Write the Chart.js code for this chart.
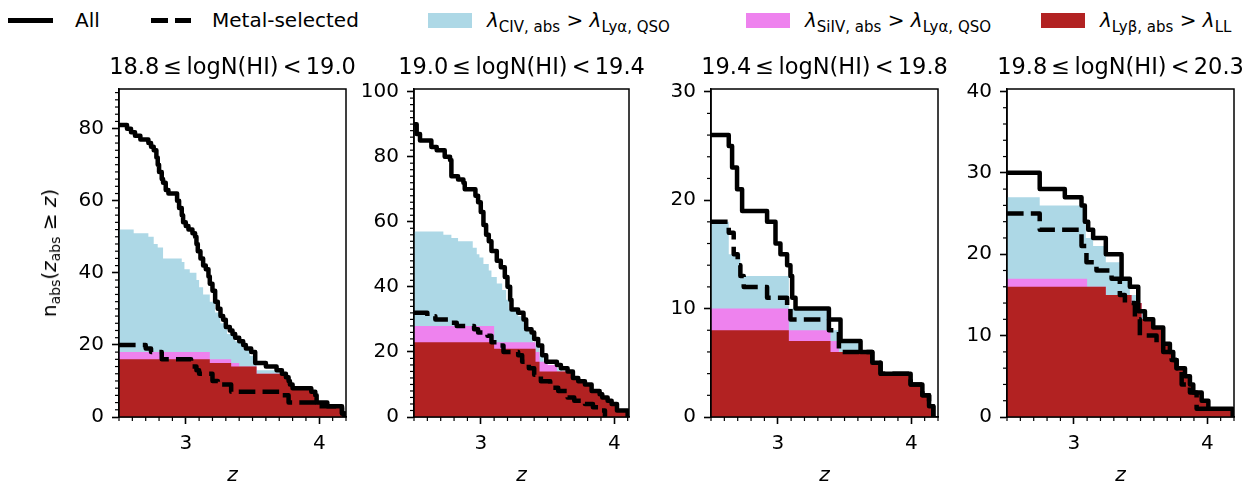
<!DOCTYPE html>
<html><head><meta charset="utf-8">
<script src="https://cdn.jsdelivr.net/npm/chart.js@4.4.1/dist/chart.umd.min.js"></script>
<style>
html,body{margin:0;padding:0;background:#fff;overflow:hidden;width:1247px;height:483px;}
body{position:relative;font-family:'DejaVu Sans',sans-serif;color:#000;}
canvas{position:absolute;}
.ttl{position:absolute;top:53px;font-size:22.5px;line-height:26px;white-space:nowrap;word-spacing:-3px;transform:translateX(-50%);}
.lg{position:absolute;top:8px;font-size:20px;line-height:24px;white-space:nowrap;}
.lg .s{font-size:15px;vertical-align:-5px;}
.patch{position:absolute;top:13px;width:44px;height:15px;}
.hline{position:absolute;top:18px;height:4.5px;background:#000;}
#ylab{position:absolute;left:51.5px;top:253px;transform:translate(-50%,-50%) rotate(-90deg);font-size:20px;line-height:24px;white-space:nowrap;}
#ylab .s{font-size:14px;vertical-align:-4px;}
</style>
</head><body>
<div id="root"></div>
<script>
// ---------------- data (z, n) step points: n holds from z until next z ----------------
const panelTitles = ['18.8 ≤ logN(HI) < 19.0','19.0 ≤ logN(HI) < 19.4','19.4 ≤ logN(HI) < 19.8','19.8 ≤ logN(HI) < 20.3'];
const zMin = [2.5, 2.5, 2.5, 2.5];
const zMax = [4.2, 4.11, 4.2, 4.2];
const nMax = [91, 100.8, 30.25, 40.3];
const nMajorStep = [20, 20, 10, 10];
const nMinorStep = [2, 2, 2, 2];
const zMajorStep = 1;
const zMinorStep = 0.1;
const seriesNames = ['All','Metal-selected','λCIV,abs > λLyα,QSO','λSiIV,abs > λLyα,QSO','λLyβ,abs > λLL'];

// panel 1: 18.8 <= logN < 19.0
const p1All = [[2.5,81],[2.56,80],[2.59,79],[2.62,78],[2.66,77],[2.72,76],[2.74,75],[2.76,74],[2.78,72],[2.79,70],[2.80,68],[2.82,66],[2.83,65],[2.85,63],[2.87,62],[2.935,60],[2.95,58],[2.97,56],[2.98,54],[3.0,53],[3.02,52],[3.05,51],[3.07,50],[3.08,48],[3.09,46],[3.11,44],[3.13,42],[3.15,41],[3.17,39],[3.18,37],[3.2,35],[3.22,32],[3.24,30],[3.26,28],[3.28,27],[3.30,25],[3.33,24],[3.35,23],[3.37,22],[3.40,21],[3.43,20],[3.45,19],[3.49,18],[3.52,15],[3.60,14],[3.68,13],[3.72,12],[3.75,11],[3.77,10],[3.78,9],[3.80,8],[3.94,7],[3.97,6],[3.98,4],[4.06,3],[4.17,1],[4.19,0]];
const p1Metal = [[2.5,20],[2.70,19],[2.74,18],[2.82,16],[3.04,14],[3.08,13],[3.10,12],[3.20,10],[3.24,9],[3.34,7],[3.70,6],[3.77,4],[3.98,3],[4.17,1],[4.19,0]];
const p1Civ = [[2.5,52],[2.61,51],[2.72,50],[2.76,48],[2.79,47],[2.83,44],[2.97,43],[2.99,41],[3.03,40],[3.08,38],[3.10,36],[3.13,34],[3.18,32],[3.22,29],[3.26,26],[3.31,23],[3.37,21],[3.43,19],[3.48,17],[3.51,15],[3.53,13],[3.72,12],[3.75,11],[3.77,10],[3.78,9],[3.80,8],[3.94,7],[3.97,6],[3.98,4],[4.06,3],[4.17,1],[4.19,0]];
const p1Siiv = [[2.5,18],[3.18,16],[3.34,15],[3.40,14],[3.53,12],[3.75,11],[3.77,10],[3.78,9],[3.80,8],[3.94,7],[3.97,6],[3.98,4],[4.06,3],[4.17,1],[4.19,0]];
const p1Lyb = [[2.5,16],[3.18,15],[3.34,14],[3.53,12],[3.75,11],[3.77,10],[3.78,9],[3.80,8],[3.94,7],[3.97,6],[3.98,4],[4.06,3],[4.17,1],[4.19,0]];

// panel 2: 19.0 <= logN < 19.4
const p2All = [[2.5,90],[2.52,87],[2.545,85],[2.63,83],[2.67,82],[2.73,80],[2.77,79],[2.78,74],[2.83,73],[2.87,72],[2.88,70],[2.96,68],[2.98,66],[3.0,63],[3.02,59],[3.04,56],[3.06,54],[3.08,51],[3.12,48],[3.15,46],[3.18,43],[3.2,40],[3.22,36],[3.23,33],[3.28,32],[3.32,30],[3.34,27],[3.38,26],[3.40,24],[3.43,22],[3.46,19],[3.49,17],[3.57,16],[3.6,15],[3.65,14],[3.69,12],[3.73,11],[3.78,10],[3.83,8],[3.89,7],[3.91,6],[3.95,5],[3.98,4],[4.02,2],[4.10,0]];
const p2Metal = [[2.5,32],[2.6,31],[2.66,30],[2.78,29],[2.82,28],[2.95,27],[2.98,26],[3.05,25],[3.08,23],[3.12,22],[3.17,20],[3.28,19],[3.31,17],[3.36,15],[3.40,13],[3.45,11],[3.52,9],[3.58,8],[3.65,6],[3.70,5],[3.78,4],[3.84,3],[3.88,2],[3.93,0]];
const p2Civ = [[2.5,57],[2.72,56],[2.78,55],[2.83,54],[2.94,52],[2.97,50],[2.99,49],[3.02,47],[3.06,45],[3.08,43],[3.12,41],[3.16,39],[3.19,36],[3.21,33],[3.28,31],[3.33,28],[3.36,26],[3.39,23],[3.41,22],[3.44,19],[3.47,17],[3.50,16],[3.57,15],[3.61,14],[3.65,13],[3.69,12],[3.73,11],[3.78,10],[3.83,8],[3.89,7],[3.91,6],[3.95,5],[3.98,4],[4.02,2],[4.10,0]];
const p2Siiv = [[2.5,28],[3.1,23],[3.41,20],[3.44,17],[3.50,16],[3.57,14],[3.65,13],[3.69,12],[3.73,11],[3.78,10],[3.83,8],[3.89,7],[3.91,6],[3.95,5],[3.98,4],[4.02,2],[4.10,0]];
const p2Lyb = [[2.5,23],[3.1,21],[3.41,17],[3.44,14],[3.69,12],[3.73,11],[3.78,10],[3.83,8],[3.89,7],[3.91,6],[3.95,5],[3.98,4],[4.02,2],[4.10,0]];

// panel 3: 19.4 <= logN < 19.8
const p3All = [[2.5,26],[2.633,25],[2.658,23],[2.695,21],[2.733,19],[2.92,18],[2.983,16],[3.02,15],[3.07,14],[3.095,13],[3.108,11],[3.133,10],[3.383,9],[3.47,7],[3.62,6],[3.708,5],[3.77,4],[3.995,3],[4.083,2],[4.133,1],[4.165,0]];
const p3Metal = [[2.5,18],[2.633,17],[2.67,15],[2.70,14],[2.72,13],[2.745,12],[2.92,11],[3.07,10],[3.095,9],[3.383,8],[3.458,6],[3.708,5],[3.77,4],[3.995,3],[4.083,2],[4.133,1],[4.165,0]];
const p3Civ = [[2.5,18],[2.633,15],[2.72,13],[3.083,10],[3.39,8],[3.47,7],[3.62,6],[3.708,5],[3.77,4],[3.995,3],[4.083,2],[4.133,1],[4.165,0]];
const p3Siiv = [[2.5,10],[3.083,8],[3.395,7],[3.458,6],[3.708,5],[3.77,4],[3.995,3],[4.083,2],[4.133,1],[4.165,0]];
const p3Lyb = [[2.5,8],[3.083,7],[3.395,6],[3.708,5],[3.77,4],[3.995,3],[4.083,2],[4.133,1],[4.165,0]];

// panel 4: 19.8 <= logN < 20.3
const p4All = [[2.5,30],[2.745,28],[2.933,27],[3.058,26],[3.083,24],[3.108,23],[3.145,22],[3.24,20],[3.358,17],[3.42,16],[3.483,13],[3.533,12],[3.595,11],[3.67,9],[3.72,8],[3.745,7],[3.77,6],[3.833,5],[3.87,4],[3.895,3],[3.958,2],[4.008,1],[4.19,0]];
const p4Metal = [[2.5,25],[2.745,23],[3.058,21],[3.095,19],[3.17,18],[3.283,17],[3.345,15],[3.383,14],[3.458,12],[3.495,10],[3.62,9],[3.67,8],[3.733,7],[3.77,6],[3.808,4],[3.87,3],[3.92,1],[4.008,0]];
const p4Civ = [[2.5,27],[2.745,26],[3.09,22],[3.145,21],[3.24,19],[3.358,17],[3.42,15],[3.483,13],[3.54,12],[3.595,11],[3.67,9],[3.72,8],[3.745,7],[3.77,6],[3.833,5],[3.87,4],[3.895,3],[3.958,2],[4.008,1],[4.19,0]];
const p4Siiv = [[2.5,17],[3.1,16],[3.24,15],[3.433,14],[3.508,12],[3.595,11],[3.67,9],[3.72,8],[3.745,7],[3.77,6],[3.833,5],[3.87,4],[3.895,3],[3.958,2],[4.008,1],[4.19,0]];
const p4Lyb = [[2.5,16],[3.24,15],[3.433,14],[3.508,12],[3.595,11],[3.67,9],[3.72,8],[3.745,7],[3.77,6],[3.833,5],[3.87,4],[3.895,3],[3.958,2],[4.008,1],[4.19,0]];

const panels = [
  {all:p1All, metal:p1Metal, civ:p1Civ, siiv:p1Siiv, lyb:p1Lyb},
  {all:p2All, metal:p2Metal, civ:p2Civ, siiv:p2Siiv, lyb:p2Lyb},
  {all:p3All, metal:p3Metal, civ:p3Civ, siiv:p3Siiv, lyb:p3Lyb},
  {all:p4All, metal:p4Metal, civ:p4Civ, siiv:p4Siiv, lyb:p4Lyb}
];

// ---------------- layout / style ----------------
const FONT = 'DejaVu Sans';
const COL = {line:'#000000', civ:'#ADD8E6', siiv:'#EE82EE', lyb:'#B22222'};
const boxes = [{l:119,r:346},{l:414,r:629},{l:711,r:938},{l:1007,r:1234}];
const TOP = 89, BOTTOM = 417;
const YW = 70, PADT = 20, PADR = 20, XH = 73;
const LW = 4.5;

Chart.defaults.font.family = FONT;

const frameAndMinor = {
  id:'frameAndMinor',
  afterDraw(chart, args, o){
    const ctx = chart.ctx, ca = chart.chartArea;
    const xs = chart.scales.x, ys = chart.scales.y;
    ctx.save();
    ctx.strokeStyle = '#000';
    ctx.lineWidth = 1.2;
    const minor = (scale, step, major, horiz) => {
      const k0 = Math.ceil(scale.min/step - 1e-6), k1 = Math.floor(scale.max/step + 1e-6);
      for (let k = k0; k <= k1; k++) {
        const v = k*step;
        const r = v/major;
        if (Math.abs(r - Math.round(r)) < 1e-6) continue;
        const p = scale.getPixelForValue(v);
        ctx.beginPath();
        if (horiz) { ctx.moveTo(p, ca.bottom); ctx.lineTo(p, ca.bottom + 4); }
        else { ctx.moveTo(ca.left, p); ctx.lineTo(ca.left - 4, p); }
        ctx.stroke();
      }
    };
    minor(xs, o.xMinor, o.xMajor, true);
    minor(ys, o.yMinor, o.yMajor, false);
    ctx.lineWidth = 1.5;
    ctx.strokeRect(ca.left, ca.top, ca.right - ca.left, ca.bottom - ca.top);
    ctx.restore();
  }
};

const xy = a => a.map(p => ({x:p[0], y:p[1]}));

panels.forEach((pd, i) => {
  const b = boxes[i];
  const cv = document.createElement('canvas');
  const w = YW + (b.r - b.l) + PADR, h = PADT + (BOTTOM - TOP) + XH;
  cv.width = w; cv.height = h;
  cv.style.left = (b.l - YW) + 'px'; cv.style.top = (TOP - PADT) + 'px';
  cv.style.width = w + 'px'; cv.style.height = h + 'px';
  document.body.appendChild(cv);

  const tickFont = {family:FONT, size:20};
  const grid = {display:true, drawOnChartArea:false, drawTicks:true, tickLength:7, tickWidth:1.6, tickColor:'#000'};
  const border = {display:true, color:'#000', width:1.5};

  new Chart(cv, {
    type:'line',
    data:{datasets:[
      {label:seriesNames[0], data:xy(pd.all), stepped:true, borderColor:COL.line, borderWidth:LW, pointRadius:0, fill:false, order:0, borderJoinStyle:'round', borderCapStyle:'butt'},
      {label:seriesNames[1], data:xy(pd.metal), stepped:true, borderColor:COL.line, borderWidth:LW, borderDash:[16.6,7.2], pointRadius:0, fill:false, order:1, borderJoinStyle:'round', borderCapStyle:'butt'},
      {label:seriesNames[4], data:xy(pd.lyb), stepped:true, borderColor:'rgba(0,0,0,0)', borderWidth:0, backgroundColor:COL.lyb, pointRadius:0, fill:'origin', order:2},
      {label:seriesNames[3], data:xy(pd.siiv), stepped:true, borderColor:'rgba(0,0,0,0)', borderWidth:0, backgroundColor:COL.siiv, pointRadius:0, fill:'origin', order:3},
      {label:seriesNames[2], data:xy(pd.civ), stepped:true, borderColor:'rgba(0,0,0,0)', borderWidth:0, backgroundColor:COL.civ, pointRadius:0, fill:'origin', order:4}
    ]},
    options:{
      responsive:false, animation:false, devicePixelRatio:1,
      layout:{padding:{left:0, top:PADT, right:PADR, bottom:0}},
      plugins:{legend:{display:false}, title:{display:false}, tooltip:{enabled:false},
        frameAndMinor:{xMinor:zMinorStep, xMajor:zMajorStep, yMinor:nMinorStep[i], yMajor:nMajorStep[i]}},
      scales:{
        x:{type:'linear', min:zMin[i], max:zMax[i],
          afterFit(s){ s.height = XH; },
          ticks:{stepSize:zMajorStep, includeBounds:false, autoSkip:false, maxRotation:0, color:'#000', font:tickFont, padding:8, callback:v => String(v)},
          grid, border,
          title:{display:true, text:'z', color:'#000', font:{family:FONT, size:20, style:'italic'}, padding:{top:0, bottom:2}}},
        y:{type:'linear', min:0, max:nMax[i],
          afterFit(s){ s.width = YW; },
          ticks:{stepSize:nMajorStep[i], includeBounds:false, color:'#000', font:tickFont, padding:8, callback:v => String(v)},
          grid, border}
      }
    },
    plugins:[frameAndMinor]
  });

  const t = document.createElement('div');
  t.className = 'ttl';
  t.style.left = ((b.l + b.r)/2) + 'px';
  t.textContent = panelTitles[i];
  document.body.appendChild(t);
});
</script>
<div id="ylab">n<span class="s">abs</span>(<i>z</i><span class="s">abs</span> ≥ <i>z</i>)</div>
<div class="hline" style="left:8px;width:45px;"></div>
<div class="lg" style="left:75px;">All</div>
<div class="hline" style="left:151px;width:16.6px;"></div>
<div class="hline" style="left:174.8px;width:16.2px;"></div>
<div class="lg" style="left:212px;">Metal-selected</div>
<div class="patch" style="left:428px;background:#ADD8E6;"></div>
<div class="lg" style="left:487px;"><i>λ</i><span class="s">CIV, abs</span> &gt; <i>λ</i><span class="s">Lyα, QSO</span></div>
<div class="patch" style="left:746px;background:#EE82EE;"></div>
<div class="lg" style="left:805px;"><i>λ</i><span class="s">SiIV, abs</span> &gt; <i>λ</i><span class="s">Lyα, QSO</span></div>
<div class="patch" style="left:1041px;background:#B22222;"></div>
<div class="lg" style="left:1100px;"><i>λ</i><span class="s">Lyβ, abs</span> &gt; <i>λ</i><span class="s">LL</span></div>
</body></html>
